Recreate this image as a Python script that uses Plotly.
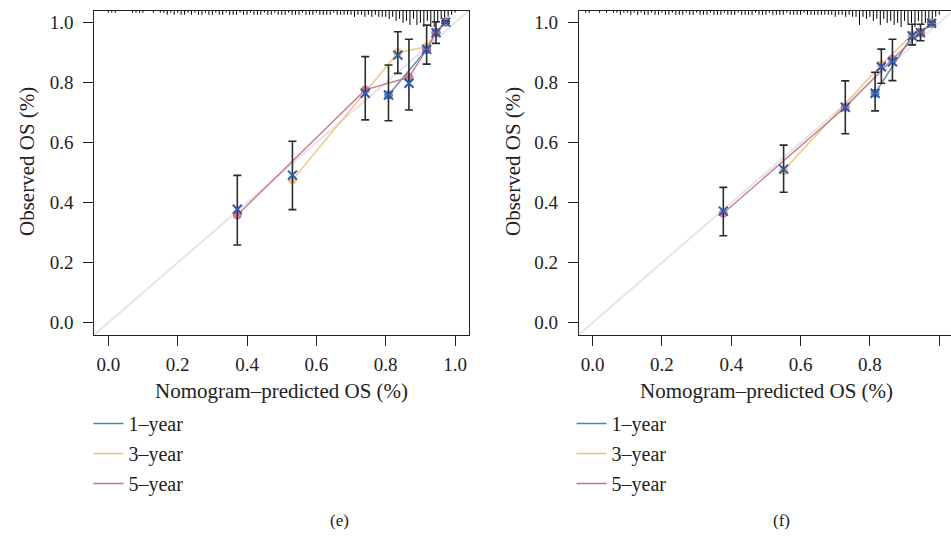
import plotly.graph_objects as go

# ---------------- data ----------------
series_names = ["1\u2013year", "3\u2013year", "5\u2013year"]
tick_vals = [0.0, 0.2, 0.4, 0.6, 0.8, 1.0]
tick_text = ["0.0", "0.2", "0.4", "0.6", "0.8", "1.0"]

# Panel (e)
e_err_x = [0.372, 0.531, 0.741, 0.808, 0.835, 0.867, 0.918, 0.945, 0.973]
e_err_y = [0.378, 0.492, 0.765, 0.759, 0.892, 0.798, 0.911, 0.967, 1.002]
e_err_lo = [0.259, 0.377, 0.676, 0.673, 0.831, 0.709, 0.862, 0.931, 0.998]
e_err_hi = [0.491, 0.605, 0.887, 0.859, 0.970, 0.945, 0.992, 1.003, 1.006]
e_1y_x = [0.808, 0.918, 0.945, 0.973]
e_1y_y = [0.759, 0.911, 0.967, 1.002]
e_3y_x = [0.531, 0.835, 0.918, 0.945, 0.973]
e_3y_y = [0.476, 0.900, 0.920, 0.967, 1.002]
e_5y_x = [0.372, 0.741, 0.867, 0.918, 0.945, 0.973]
e_5y_y = [0.359, 0.776, 0.818, 0.911, 0.967, 1.002]
e_rug_start = 0.00
e_rug_counts = [1, 1, 1, 0, 0, 0, 0, 1, 1, 1,
                1, 0, 0, 1, 0, 1, 1, 2, 1, 2,
                1, 2, 2, 1, 2, 1, 2, 2, 1, 2,
                2, 1, 2, 2, 1, 2, 2, 2, 1, 2,
                2, 1, 2, 2, 2, 1, 2, 2, 1, 2,
                2, 2, 1, 2, 2, 2, 1, 2, 2, 2,
                1, 2, 2, 2, 2, 1, 2, 2, 2, 2,
                2, 3, 2, 2, 3, 2, 3, 2, 3, 3,
                3, 4, 3, 5, 4, 6, 5, 7, 4, 7,
                6, 8, 5, 8, 8, 6, 4, 6, 3, 2,
                1]

# Panel (f)
f_err_x = [0.377, 0.551, 0.729, 0.815, 0.833, 0.865, 0.922, 0.946, 0.978]
f_err_y = [0.372, 0.512, 0.718, 0.765, 0.853, 0.870, 0.956, 0.967, 0.998]
f_err_lo = [0.290, 0.435, 0.630, 0.706, 0.798, 0.807, 0.926, 0.940, 0.993]
f_err_hi = [0.451, 0.592, 0.806, 0.835, 0.912, 0.945, 0.995, 0.995, 1.003]
f_1y_x = [0.815, 0.922, 0.946, 0.978]
f_1y_y = [0.765, 0.956, 0.967, 0.998]
f_3y_x = [0.551, 0.833, 0.922, 0.946, 0.978]
f_3y_y = [0.507, 0.860, 0.960, 0.967, 0.998]
f_5y_x = [0.377, 0.729, 0.865, 0.946, 0.978]
f_5y_y = [0.365, 0.718, 0.878, 0.967, 0.998]
f_rug_start = -0.02
f_rug_counts = [1, 1, 0, 0, 1, 0, 1, 0, 1, 1,
                2, 1, 1, 2, 1, 2, 1, 2, 2, 1,
                2, 2, 1, 2, 2, 1, 2, 2, 2, 1,
                2, 2, 1, 2, 2, 2, 1, 2, 2, 2,
                1, 2, 2, 2, 1, 2, 2, 2, 2, 1,
                2, 2, 2, 1, 2, 2, 2, 2, 1, 2,
                2, 2, 2, 1, 2, 2, 2, 2, 2, 2,
                2, 2, 3, 2, 2, 3, 2, 3, 3, 7,
                3, 4, 3, 5, 4, 7, 4, 6, 5, 7,
                6, 8, 5, 7, 6, 8, 5, 7, 6, 4,
                5, 3, 2]

# ---------------- style ----------------
FONT = "Liberation Serif"
line_colors = ["#4f86a3", "#f0c07a", "#c8718d"]
dot_colors = ["#3f6fae", "#e9b366", "#c0607f"]
x_color = "#2c5bb4"
err_color = "#2b2b2b"
diag_color = "#e6e6e6"
Y_TOP = 1.04
RUG_UNIT = 0.0068

fig = go.Figure()


def add_panel(xa, ya, legend, err_x, err_y, lo, hi, sx, sy, rug_start, rug_counts):
    # ideal diagonal
    fig.add_trace(go.Scatter(x=[-0.05, 1.05], y=[-0.05, 1.05], mode="lines",
                             line=dict(color=diag_color, width=2),
                             xaxis=xa, yaxis=ya, showlegend=False, hoverinfo="skip"))
    # rug (spike histogram of predictions) hanging from top
    rx, ry = [], []
    for i, c in enumerate(rug_counts):
        if c <= 0:
            continue
        xv = rug_start + i * 0.01
        rx += [xv, xv, None]
        ry += [Y_TOP, Y_TOP - c * RUG_UNIT, None]
    fig.add_trace(go.Scatter(x=rx, y=ry, mode="lines", line=dict(color="black", width=1),
                             xaxis=xa, yaxis=ya, showlegend=False, hoverinfo="skip"))
    # series lines with dots
    for k in range(3):
        fig.add_trace(go.Scatter(x=sx[k], y=sy[k], mode="lines+markers",
                                 line=dict(color=line_colors[k], width=1.5),
                                 marker=dict(color=dot_colors[k], size=9, opacity=0.85),
                                 opacity=0.9, name=series_names[k],
                                 xaxis=xa, yaxis=ya, showlegend=False))
    # error bars + X markers
    fig.add_trace(go.Scatter(
        x=err_x, y=err_y, mode="markers",
        marker=dict(symbol="x-thin", size=9, color=x_color,
                    line=dict(color=x_color, width=2)),
        error_y=dict(type="data", symmetric=False,
                     array=[h - y for h, y in zip(hi, err_y)],
                     arrayminus=[y - l for l, y in zip(lo, err_y)],
                     color=err_color, thickness=1.6, width=4),
        xaxis=xa, yaxis=ya, showlegend=False))
    # legend entries
    for k in range(3):
        fig.add_trace(go.Scatter(x=[None], y=[None], mode="lines",
                                 line=dict(color=line_colors[k], width=1.5),
                                 name=series_names[k], legend=legend,
                                 legendgroup=legend + str(k),
                                 xaxis=xa, yaxis=ya, showlegend=True))


add_panel("x", "y", "legend", e_err_x, e_err_y, e_err_lo, e_err_hi,
          [e_1y_x, e_3y_x, e_5y_x], [e_1y_y, e_3y_y, e_5y_y], e_rug_start, e_rug_counts)
add_panel("x2", "y2", "legend2", f_err_x, f_err_y, f_err_lo, f_err_hi,
          [f_1y_x, f_3y_x, f_5y_x], [f_1y_y, f_3y_y, f_5y_y], f_rug_start, f_rug_counts)

ydom = [0.3767, 0.9801]
axis_common = dict(tickmode="array", tickvals=tick_vals, ticktext=tick_text,
                   ticks="outside", ticklen=10, tickwidth=1.3, tickcolor="#222",
                   showgrid=False, zeroline=False, showline=True, linecolor="#222",
                   linewidth=1.3, tickfont=dict(family=FONT, size=19, color="#222"))

fig.update_layout(
    width=951, height=537,
    margin=dict(l=0, r=0, t=0, b=0),
    paper_bgcolor="white", plot_bgcolor="white",
    font=dict(family=FONT, color="#222"),
    xaxis=dict(domain=[0.0993, 0.4931], range=[-0.04, 1.04], mirror=True,
               anchor="y", ticklabelstandoff=2, **axis_common),
    yaxis=dict(domain=ydom, range=[-0.04, 1.04], mirror=True,
               anchor="x", ticklabelstandoff=6, **axis_common),
    xaxis2=dict(domain=[0.6088, 1.0], range=[-0.0395, 1.034], mirror=True,
                anchor="y2", ticklabelstandoff=2, **axis_common),
    yaxis2=dict(domain=ydom, range=[-0.04, 1.04], mirror=False,
                anchor="x2", ticklabelstandoff=6, **axis_common),
    legend=dict(x=0.093, y=1 - 404 / 537, xanchor="left", yanchor="top",
                font=dict(family=FONT, size=20, color="#222"),
                bgcolor="rgba(0,0,0,0)", tracegroupgap=1, itemwidth=30),
    legend2=dict(x=0.601, y=1 - 404 / 537, xanchor="left", yanchor="top",
                 font=dict(family=FONT, size=20, color="#222"),
                 bgcolor="rgba(0,0,0,0)", tracegroupgap=1, itemwidth=30),
    showlegend=True,
)

# axis titles and panel labels
ann = [
    dict(text="Nomogram\u2013predicted OS (%)", x=281.7 / 951, y=1 - 391 / 537),
    dict(text="Nomogram\u2013predicted OS (%)", x=766 / 951, y=1 - 391 / 537),
    dict(text="Observed OS (%)", x=27 / 951, y=1 - 162 / 537, textangle=-90),
    dict(text="Observed OS (%)", x=513 / 951, y=1 - 162 / 537, textangle=-90),
]
for a in ann:
    fig.add_annotation(xref="paper", yref="paper", xanchor="center", yanchor="middle",
                       showarrow=False, font=dict(family=FONT, size=21, color="#222"), **a)
for lab, xc in [("(e)", 339), ("(f)", 781)]:
    fig.add_annotation(text=lab, xref="paper", yref="paper", x=xc / 951, y=1 - 520 / 537,
                       xanchor="center", yanchor="middle", showarrow=False,
                       font=dict(family=FONT, size=17, color="#222"))

fig.write_html("out.html")
